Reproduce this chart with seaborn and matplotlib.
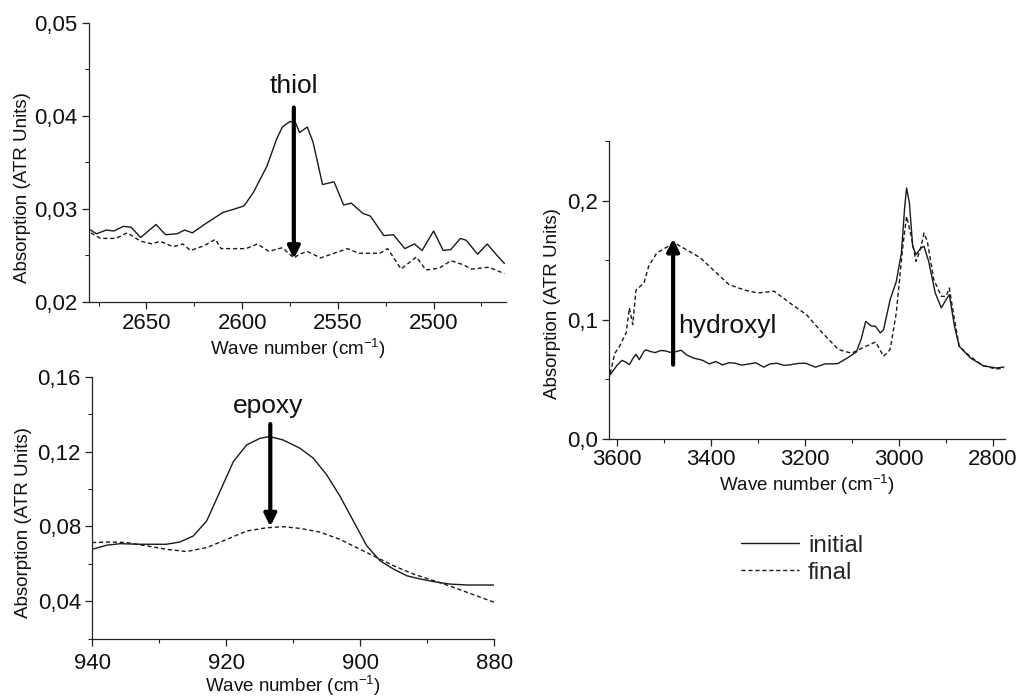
import numpy as np
import pandas as pd
import matplotlib
matplotlib.use("Agg")
import matplotlib.pyplot as plt
from matplotlib.ticker import FixedLocator, FuncFormatter, MultipleLocator
from matplotlib.lines import Line2D
import seaborn as sns

# ---------------- data ----------------
# Thiol region (top-left)
thiol_x_init = [2680, 2676, 2671, 2667, 2662, 2658, 2653, 2649, 2645, 2640, 2634, 2630, 2626, 2619,
                2610, 2605, 2599, 2594, 2587, 2582, 2579, 2575, 2572, 2570, 2566, 2563, 2558, 2552,
                2547, 2543, 2537, 2533, 2526, 2521, 2515, 2510, 2506, 2500, 2495, 2491, 2486, 2483,
                2477, 2472, 2467, 2463]
thiol_y_init = [0.0278, 0.0273, 0.0277, 0.0276, 0.0281, 0.0280, 0.0269, 0.0276, 0.0283, 0.0272,
                0.0273, 0.0277, 0.0274, 0.0284, 0.0296, 0.0299, 0.0303, 0.0318, 0.0346, 0.0375,
                0.0388, 0.0394, 0.0392, 0.0382, 0.0388, 0.0372, 0.0326, 0.0329, 0.0304, 0.0306,
                0.0295, 0.0292, 0.0271, 0.0272, 0.0257, 0.0262, 0.0255, 0.0276, 0.0255, 0.0256,
                0.0268, 0.0266, 0.0251, 0.0262, 0.0250, 0.0241]
thiol_x_final = [2679, 2674, 2666, 2660, 2653, 2647, 2643, 2636, 2631, 2627, 2620, 2614, 2611, 2605,
                 2598, 2592, 2586, 2579, 2573, 2570, 2566, 2559, 2552, 2545, 2539, 2528, 2524, 2517,
                 2509, 2504, 2497, 2491, 2485, 2480, 2471, 2463]
thiol_y_final = [0.0274, 0.0268, 0.0268, 0.0274, 0.0265, 0.0262, 0.0265, 0.0259, 0.0262, 0.0255,
                 0.0260, 0.0267, 0.0257, 0.0257, 0.0257, 0.0262, 0.0254, 0.0258, 0.0247, 0.0251,
                 0.0254, 0.0247, 0.0252, 0.0257, 0.0252, 0.0252, 0.0257, 0.0235, 0.0248, 0.0234,
                 0.0236, 0.0244, 0.0240, 0.0235, 0.0237, 0.0230]

# Epoxy region (bottom-left)
epoxy_x_init = [940, 937.8, 935.8, 932.8, 928.9, 926.9, 924.9, 922.9, 920.9, 918.9, 916.9, 914.9,
                913.5, 911.5, 909, 907, 905, 903, 901, 899, 897, 895, 893, 891, 889, 886.6, 884, 880]
epoxy_y_init = [0.0678, 0.0700, 0.0708, 0.0705, 0.0705, 0.0717, 0.0749, 0.0829, 0.0988, 0.1148,
                0.1237, 0.1272, 0.1281, 0.1263, 0.1219, 0.1166, 0.1077, 0.0962, 0.0829, 0.0696,
                0.0616, 0.0572, 0.0536, 0.0519, 0.0505, 0.0492, 0.0487, 0.0487]
epoxy_x_final = [940, 937.3, 934.8, 931.8, 928.9, 925.9, 922.9, 919.9, 916.9, 914, 911.5, 909, 906,
                 903, 900, 897.5, 895, 892, 889, 886, 883, 880]
epoxy_y_final = [0.0714, 0.0717, 0.0714, 0.0696, 0.0678, 0.0666, 0.0687, 0.0731, 0.0776, 0.0793,
                 0.0799, 0.0790, 0.0770, 0.0731, 0.0678, 0.0634, 0.0590, 0.0545, 0.0510, 0.0474,
                 0.0434, 0.0395]

# Hydroxyl / CH region (right)
oh_x_init = [3615, 3601, 3590, 3581, 3574, 3566, 3560, 3553, 3543, 3539, 3530, 3519, 3508, 3498,
             3488, 3478, 3464, 3452, 3437, 3425, 3417, 3404, 3390, 3376, 3362, 3349, 3335, 3322,
             3305, 3288, 3275, 3260, 3245, 3233, 3215, 3199, 3178, 3158, 3131, 3110, 3091, 3081,
             3071, 3060, 3050, 3040, 3033, 3019, 3006, 2995, 2988, 2984, 2978, 2971, 2964, 2954,
             2947, 2937, 2923, 2910, 2900, 2893, 2882, 2872, 2848, 2821, 2793, 2777]
oh_y_init = [0.054, 0.0615, 0.0660, 0.0643, 0.0624, 0.0680, 0.0710, 0.0666, 0.0736, 0.0748, 0.0735,
             0.0725, 0.0742, 0.0740, 0.0728, 0.0730, 0.0745, 0.0705, 0.0678, 0.0668, 0.0658,
             0.0630, 0.0650, 0.0622, 0.0640, 0.0636, 0.0620, 0.0628, 0.0640, 0.0603, 0.0630,
             0.0636, 0.0618, 0.0622, 0.0634, 0.0636, 0.0603, 0.0630, 0.0632, 0.0680, 0.0730,
             0.0834, 0.0987, 0.0950, 0.0945, 0.0890, 0.0917, 0.1170, 0.1320, 0.1560, 0.1950,
             0.2106, 0.1980, 0.1617, 0.1547, 0.1600, 0.1617, 0.1490, 0.1225, 0.1100, 0.1170,
             0.1210, 0.0945, 0.0778, 0.0680, 0.0615, 0.0596, 0.0604]
oh_x_final = [3615, 3605, 3595, 3581, 3574, 3567, 3560, 3543, 3533, 3516, 3499, 3478, 3458, 3423,
              3396, 3362, 3327, 3300, 3266, 3232, 3197, 3163, 3129, 3101, 3074, 3050, 3033, 3019,
              3006, 2992, 2984, 2975, 2964, 2954, 2947, 2940, 2926, 2910, 2900, 2893, 2882, 2872,
              2848, 2821, 2793, 2777]
oh_y_final = [0.055, 0.072, 0.0778, 0.089, 0.110, 0.096, 0.125, 0.131, 0.145, 0.156, 0.160, 0.1645,
              0.160, 0.152, 0.142, 0.1295, 0.1247, 0.1225, 0.124, 0.114, 0.1043, 0.089, 0.075,
              0.072, 0.0772, 0.0814, 0.0694, 0.075, 0.1057, 0.1617, 0.1868, 0.1715, 0.149, 0.160,
              0.1728, 0.166, 0.1337, 0.1197, 0.1197, 0.1267, 0.100, 0.0778, 0.069, 0.0615, 0.0587,
              0.0596]

series_labels = ["initial", "final"]
thiol_yticks = [0.02, 0.03, 0.04, 0.05]
epoxy_yticks = [0.04, 0.08, 0.12, 0.16]
oh_yticks = [0.0, 0.1, 0.2]
thiol_xticks = [2650, 2600, 2550, 2500]
epoxy_xticks = [940, 920, 900, 880]
oh_xticks = [3600, 3400, 3200, 3000, 2800]

# ---------------- style ----------------
sns.set_theme(style="ticks")
plt.rcParams["font.family"] = ["Liberation Sans", "DejaVu Sans"]
plt.rcParams["mathtext.default"] = "regular"
plt.rcParams["axes.linewidth"] = 0.9
plt.rcParams["axes.edgecolor"] = "#222222"
LINE_C = "#1a1a1a"


def make_df(xi, yi, xf, yf):
    return pd.concat([
        pd.DataFrame({"x": xi, "y": yi, "series": series_labels[0]}),
        pd.DataFrame({"x": xf, "y": yf, "series": series_labels[1]}),
    ], ignore_index=True)


def style_axis(ax, xlim, ylim, xticks, xminor, yticks, yminor, ydec, ylab_pos, xpad, xlabpad):
    ax.set_xlim(*xlim)
    ax.set_ylim(*ylim)
    ax.xaxis.set_major_locator(FixedLocator(xticks))
    ax.xaxis.set_minor_locator(MultipleLocator(xminor))
    ax.yaxis.set_major_locator(FixedLocator(yticks))
    ax.yaxis.set_minor_locator(MultipleLocator(yminor))
    ax.yaxis.set_major_formatter(FuncFormatter(lambda v, p: f"{v:.{ydec}f}".replace(".", ",")))
    ax.xaxis.set_major_formatter(FuncFormatter(lambda v, p: f"{v:.0f}"))
    ax.tick_params(which="major", direction="out", length=5, width=0.9, labelsize=16,
                   colors="#222222", labelcolor="#111111", pad=3)
    ax.tick_params(axis="x", which="major", pad=xpad)
    ax.tick_params(which="minor", direction="out", length=3, width=0.8, colors="#222222")
    sns.despine(ax=ax)
    ax.set_xlabel("Wave number (cm$^{-1}$)", fontsize=13.5, labelpad=xlabpad, color="#111111")
    ax.set_ylabel("Absorption (ATR Units)", fontsize=13.5, color="#111111")
    ax.yaxis.set_label_coords(*ylab_pos)
    if ax.get_legend() is not None:
        ax.get_legend().remove()


fig = plt.figure(figsize=(10.18, 6.98), dpi=100)
ax1 = fig.add_axes([0.0874, 0.568, 0.410, 0.399])
ax2 = fig.add_axes([0.0904, 0.085, 0.395, 0.375])
ax3 = fig.add_axes([0.598, 0.371, 0.389, 0.427])

dashes = {"initial": "", "final": (3, 2)}

for ax, df in [
    (ax1, make_df(thiol_x_init, thiol_y_init, thiol_x_final, thiol_y_final)),
    (ax2, make_df(epoxy_x_init, epoxy_y_init, epoxy_x_final, epoxy_y_final)),
    (ax3, make_df(oh_x_init, oh_y_init, oh_x_final, oh_y_final)),
]:
    sns.lineplot(data=df, x="x", y="y", hue="series", style="series",
                 palette={"initial": LINE_C, "final": LINE_C}, dashes=dashes,
                 linewidth=1.0, sort=False, estimator=None, ax=ax)

style_axis(ax1, (2680, 2462), (0.02, 0.05), thiol_xticks, 25, thiol_yticks, 0.005, 2,
           (-0.139, 0.41), 3, 2)
style_axis(ax2, (940, 880), (0.02, 0.16), epoxy_xticks, 10, epoxy_yticks, 0.02, 2,
           (-0.149, 0.445), 5, 0)
style_axis(ax3, (3618, 2775), (0.0, 0.25), oh_xticks, 100, oh_yticks, 0.05, 1,
           (-0.12, 0.456), 2, 2)

arrow_kw = dict(arrowstyle="-|>", color="black", lw=3.0, mutation_scale=18, shrinkA=0, shrinkB=0)

ax1.annotate("", xy=(2573, 0.0246), xytext=(2573, 0.0409), arrowprops=arrow_kw)
ax1.text(2573, 0.0432, "thiol", ha="center", va="center", fontsize=19, color="#111111")

ax2.annotate("", xy=(913.4, 0.0800), xytext=(913.4, 0.1348), arrowprops=arrow_kw)
ax2.text(913.8, 0.1445, "epoxy", ha="center", va="center", fontsize=19, color="#111111")

ax3.annotate("", xy=(3481, 0.168), xytext=(3481, 0.0624), arrowprops=arrow_kw)
ax3.text(3470, 0.0945, "hydroxyl", ha="left", va="center", fontsize=19, color="#111111")

handles = [Line2D([], [], color=LINE_C, lw=1.0),
           Line2D([], [], color=LINE_C, lw=1.0, dashes=(3, 2))]
fig.legend(handles, series_labels, loc="upper left", bbox_to_anchor=(0.728, 0.234),
           frameon=False, fontsize=17.5, handlelength=2.4, handletextpad=0.35,
           labelspacing=0.2, borderpad=0, borderaxespad=0)

fig.savefig("out.png", dpi=100)
